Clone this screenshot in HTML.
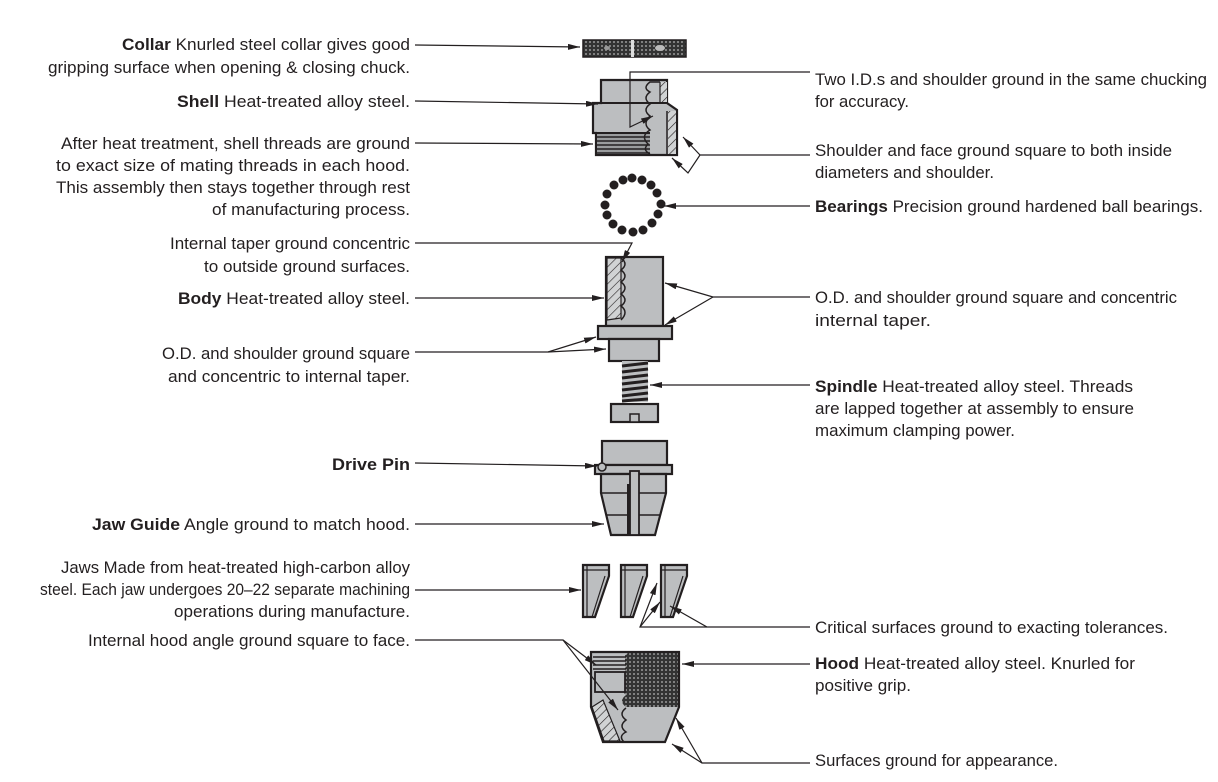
<!DOCTYPE html>
<html><head><meta charset="utf-8"><style>
html,body{margin:0;padding:0;background:#fff}
svg{display:block}
text{font-family:"Liberation Sans Narrow","Liberation Sans",sans-serif;font-size:17px;fill:#231f20}
.b{font-weight:bold}
.l{stroke:#231f20;stroke-width:1.2;fill:none}
.p{fill:#bcbec0;stroke:#231f20;stroke-width:2.2}
</style></head><body>
<svg width="1218" height="782" viewBox="0 0 1218 782" xmlns="http://www.w3.org/2000/svg">
<defs>
<marker id="a" viewBox="0 0 12 6" refX="12" refY="3" markerWidth="12" markerHeight="6" orient="auto" markerUnits="userSpaceOnUse"><path d="M0,0 L12,3 L0,6 Z" fill="#231f20"/></marker>
<pattern id="k" width="4" height="4" patternUnits="userSpaceOnUse"><rect width="4" height="4" fill="#333"/><circle cx="2" cy="2" r="1" fill="#999"/></pattern>
<pattern id="h" width="6" height="6" patternUnits="userSpaceOnUse" patternTransform="rotate(45)"><rect width="6" height="6" fill="#d1d3d4"/><line x1="0" y1="0" x2="0" y2="6" stroke="#231f20" stroke-width="1.2"/></pattern>
</defs>

<g text-anchor="start">
<text x="122" y="50" textLength="288" lengthAdjust="spacingAndGlyphs"><tspan class="b">Collar</tspan> Knurled steel collar gives good</text>
<text x="48" y="73" textLength="362" lengthAdjust="spacingAndGlyphs">gripping surface when opening &amp; closing chuck.</text>
<text x="177" y="107" textLength="233" lengthAdjust="spacingAndGlyphs"><tspan class="b">Shell</tspan> Heat-treated alloy steel.</text>
<text x="61" y="149" textLength="349" lengthAdjust="spacingAndGlyphs">After heat treatment, shell threads are ground</text>
<text x="56" y="171" textLength="354" lengthAdjust="spacingAndGlyphs">to exact size of mating threads in each hood.</text>
<text x="56" y="193" textLength="354" lengthAdjust="spacingAndGlyphs">This assembly then stays together through rest</text>
<text x="212" y="215" textLength="198" lengthAdjust="spacingAndGlyphs">of manufacturing process.</text>
<text x="170" y="249" textLength="240" lengthAdjust="spacingAndGlyphs">Internal taper ground concentric</text>
<text x="204" y="272" textLength="206" lengthAdjust="spacingAndGlyphs">to outside ground surfaces.</text>
<text x="178" y="304" textLength="232" lengthAdjust="spacingAndGlyphs"><tspan class="b">Body</tspan> Heat-treated alloy steel.</text>
<text x="162" y="359" textLength="248" lengthAdjust="spacingAndGlyphs">O.D. and shoulder ground square</text>
<text x="168" y="382" textLength="242" lengthAdjust="spacingAndGlyphs">and concentric to internal taper.</text>
<text x="332" y="470" textLength="78" lengthAdjust="spacingAndGlyphs" class="b">Drive Pin</text>
<text x="92" y="530" textLength="318" lengthAdjust="spacingAndGlyphs"><tspan class="b">Jaw Guide</tspan> Angle ground to match hood.</text>
<text x="61" y="573" textLength="349" lengthAdjust="spacingAndGlyphs">Jaws Made from heat-treated high-carbon alloy</text>
<text x="40" y="595" textLength="370" lengthAdjust="spacingAndGlyphs">steel. Each jaw undergoes 20–22 separate machining</text>
<text x="174" y="617" textLength="236" lengthAdjust="spacingAndGlyphs">operations during manufacture.</text>
<text x="88" y="646" textLength="322" lengthAdjust="spacingAndGlyphs">Internal hood angle ground square to face.</text>

<text x="815" y="85" textLength="392" lengthAdjust="spacingAndGlyphs">Two I.D.s and shoulder ground in the same chucking</text>
<text x="815" y="107" textLength="94" lengthAdjust="spacingAndGlyphs">for accuracy.</text>
<text x="815" y="156" textLength="357" lengthAdjust="spacingAndGlyphs">Shoulder and face ground square to both inside</text>
<text x="815" y="178" textLength="179" lengthAdjust="spacingAndGlyphs">diameters and shoulder.</text>
<text x="815" y="212" textLength="388" lengthAdjust="spacingAndGlyphs"><tspan class="b">Bearings</tspan> Precision ground hardened ball bearings.</text>
<text x="815" y="303" textLength="362" lengthAdjust="spacingAndGlyphs">O.D. and shoulder ground square and concentric</text>
<text x="815" y="326" textLength="116" lengthAdjust="spacingAndGlyphs">internal taper.</text>
<text x="815" y="392" textLength="318" lengthAdjust="spacingAndGlyphs"><tspan class="b">Spindle</tspan> Heat-treated alloy steel. Threads</text>
<text x="815" y="414" textLength="319" lengthAdjust="spacingAndGlyphs">are lapped together at assembly to ensure</text>
<text x="815" y="436" textLength="200" lengthAdjust="spacingAndGlyphs">maximum clamping power.</text>
<text x="815" y="633" textLength="353" lengthAdjust="spacingAndGlyphs">Critical surfaces ground to exacting tolerances.</text>
<text x="815" y="669" textLength="320" lengthAdjust="spacingAndGlyphs"><tspan class="b">Hood</tspan> Heat-treated alloy steel. Knurled for</text>
<text x="815" y="691" textLength="96" lengthAdjust="spacingAndGlyphs">positive grip.</text>
<text x="815" y="766" textLength="243" lengthAdjust="spacingAndGlyphs">Surfaces ground for appearance.</text>
</g>

<!-- collar -->
<rect x="583" y="40" width="103" height="17" fill="url(#k)" stroke="#231f20" stroke-width="1.5"/>
<rect x="631" y="40" width="3" height="17" fill="#ddd"/>
<ellipse cx="607" cy="48" rx="3" ry="2" fill="#999"/>
<ellipse cx="660" cy="48" rx="5" ry="3" fill="#bbb"/>

<!-- shell -->
<path d="M601,80 L667,80 L667,103 L677,110 L677,155 L596,155 L596,133 L593,133 L593,103 L601,103 Z" fill="#bcbec0" stroke="#231f20" stroke-width="2.2"/>
<line x1="593" y1="103" x2="667" y2="103" stroke="#231f20" stroke-width="2"/>
<line x1="593" y1="133" x2="650" y2="133" stroke="#231f20" stroke-width="2"/>
<rect x="660" y="82" width="7" height="20" fill="url(#h)"/>
<rect x="668" y="111" width="8" height="43" fill="url(#h)"/>
<line x1="667" y1="111" x2="667" y2="155" stroke="#231f20" stroke-width="1.5"/>
<rect x="597" y="134" width="53" height="20" fill="#9a9c9e"/>
<g stroke="#231f20" stroke-width="1.6"><line x1="597" y1="137" x2="650" y2="137"/><line x1="597" y1="141" x2="650" y2="141"/><line x1="597" y1="145" x2="650" y2="145"/><line x1="597" y1="149" x2="650" y2="149"/><line x1="597" y1="153" x2="650" y2="153"/></g>
<path d="M660,82 L650,82 q-8,6 0,10 q-8,6 0,12 q-8,6 0,12 q-8,8 0,14 q-10,6 -2,14 q-6,6 2,10" fill="none" stroke="#231f20" stroke-width="1.5"/>
<line x1="660" y1="82" x2="660" y2="103" stroke="#231f20" stroke-width="1.2"/>

<!-- bearings -->
<g fill="#231f20">
<circle cx="632" cy="178" r="4.5"/><circle cx="642" cy="180" r="4.5"/><circle cx="651" cy="185" r="4.5"/><circle cx="657" cy="193" r="4.5"/>
<circle cx="661" cy="204" r="4.5"/><circle cx="658" cy="214" r="4.5"/><circle cx="652" cy="223" r="4.5"/><circle cx="643" cy="230" r="4.5"/>
<circle cx="633" cy="232" r="4.5"/><circle cx="622" cy="230" r="4.5"/><circle cx="613" cy="224" r="4.5"/><circle cx="607" cy="215" r="4.5"/>
<circle cx="605" cy="205" r="4.5"/><circle cx="607" cy="194" r="4.5"/><circle cx="614" cy="185" r="4.5"/><circle cx="623" cy="180" r="4.5"/>
</g>

<!-- body -->
<rect class="p" x="606" y="257" width="57" height="69"/>
<path d="M607,258 L621,258 L621,318 L607,320 Z" fill="url(#h)" stroke="#231f20" stroke-width="1.2"/>
<path d="M621,258 q8,6 0,12 q8,6 0,12 q8,6 0,12 q8,6 0,12 q8,6 0,14" fill="none" stroke="#231f20" stroke-width="1.5"/>
<rect class="p" x="598" y="326" width="74" height="13"/>
<rect class="p" x="609" y="339" width="50" height="22"/>
<rect x="622" y="361" width="26" height="41" fill="#bcbec0"/>
<g stroke="#231f20" stroke-width="3"><line x1="622" y1="366" x2="648" y2="363"/><line x1="622" y1="372" x2="648" y2="369"/><line x1="622" y1="378" x2="648" y2="375"/><line x1="622" y1="384" x2="648" y2="381"/><line x1="622" y1="390" x2="648" y2="387"/><line x1="622" y1="396" x2="648" y2="393"/><line x1="622" y1="401" x2="648" y2="399"/></g>
<rect class="p" x="611" y="404" width="47" height="18"/>
<rect x="630" y="414" width="9" height="8" fill="#bcbec0" stroke="#231f20" stroke-width="1.5"/>

<!-- jaw guide -->
<rect class="p" x="602" y="441" width="65" height="24"/>
<rect class="p" x="595" y="465" width="77" height="9"/>
<path class="p" d="M601,474 L666,474 L666,493 L655,535 L611,535 L601,493 Z"/>
<line x1="601" y1="493" x2="666" y2="493" stroke="#231f20" stroke-width="1.5"/>
<line x1="606" y1="515" x2="660" y2="515" stroke="#231f20" stroke-width="1.5"/>
<rect x="630" y="471" width="9" height="64" fill="#bcbec0" stroke="#231f20" stroke-width="1.8"/>
<rect x="627" y="484" width="3" height="51" fill="#231f20"/>
<circle cx="602" cy="467" r="4" fill="#bcbec0" stroke="#231f20" stroke-width="1.5"/>

<!-- jaws -->
<path class="p" d="M583,565 L609,565 L609,576 L595,617 L583,617 Z"/>
<path class="p" d="M621,565 L647,565 L647,576 L633,617 L621,617 Z"/>
<path class="p" d="M661,565 L687,565 L687,576 L673,617 L661,617 Z"/>
<g stroke="#231f20" stroke-width="1.2" fill="none">
<line x1="583" y1="570" x2="609" y2="570"/><line x1="587" y1="565" x2="587" y2="617"/><line x1="605" y1="576" x2="592" y2="617"/>
<line x1="621" y1="570" x2="647" y2="570"/><line x1="625" y1="565" x2="625" y2="617"/><line x1="643" y1="576" x2="630" y2="617"/>
<line x1="661" y1="570" x2="687" y2="570"/><line x1="665" y1="565" x2="665" y2="617"/><line x1="683" y1="576" x2="670" y2="617"/>
</g>

<!-- hood -->
<path d="M591,652 L679,652 L679,707 L665,742 L603,742 L591,707 Z" fill="#bcbec0"/>
<path d="M628,653 L679,653 L679,707 L626,707 q-8,-6 0,-12 q-8,-7 0,-14 q-8,-7 0,-14 q-8,-7 2,-14 Z" fill="url(#k)"/>
<rect x="593" y="654" width="32" height="18" fill="#bcbec0"/>
<g stroke="#231f20" stroke-width="1.5"><line x1="593" y1="657" x2="626" y2="657"/><line x1="593" y1="661" x2="626" y2="661"/><line x1="593" y1="665" x2="626" y2="665"/><line x1="593" y1="669" x2="626" y2="669"/></g>
<rect x="595" y="672" width="30" height="20" fill="#bcbec0" stroke="#231f20" stroke-width="1.8"/>
<path d="M592,707 L603,700 L620,741 L604,741 Z" fill="url(#h)" stroke="#231f20" stroke-width="1.2"/>
<path d="M626,708 q-8,6 0,12 q-8,6 0,12 q-8,4 -2,10" fill="none" stroke="#231f20" stroke-width="1.5"/>
<path d="M591,652 L679,652 L679,707 L665,742 L603,742 L591,707 Z" fill="none" stroke="#231f20" stroke-width="2.2"/>

<!-- LEADERS LEFT -->
<g class="l" marker-end="url(#a)">
<path d="M415,45 L580,47"/>
<path d="M415,101 L598,104"/>
<path d="M415,143 L593,144"/>
<path d="M415,298 L604,298"/>
<path d="M415,352 L548,352 L596,337"/>
<path d="M548,352 L606,349"/>
<path d="M415,463 L597,466"/>
<path d="M415,524 L604,524"/>
<path d="M415,590 L581,590"/>
<path d="M415,640 L563,640 L596,665"/>
<path d="M563,640 L618,710"/>
<path d="M415,243 L632,243 L622,262"/>
</g>

<!-- LEADERS RIGHT -->
<g class="l" marker-end="url(#a)">
<path d="M810,72 L630,72 L630,127 L653,116"/>
<path d="M810,155 L700,155 L688,173 L672,158"/>
<path d="M700,155 L683,137"/>
<path d="M810,206 L664,206"/>
<path d="M810,297 L713,297 L665,283"/>
<path d="M713,297 L665,325"/>
<path d="M810,385 L650,385"/>
<path d="M810,627 L707,627 L670,606"/>
<path d="M707,627 L640,627 L657,583"/>
<path d="M640,627 L660,602"/>
<path d="M810,664 L682,664"/>
<path d="M810,763 L702,763 L672,744"/>
<path d="M702,763 L676,718"/>
</g>
</svg>
</body></html>
